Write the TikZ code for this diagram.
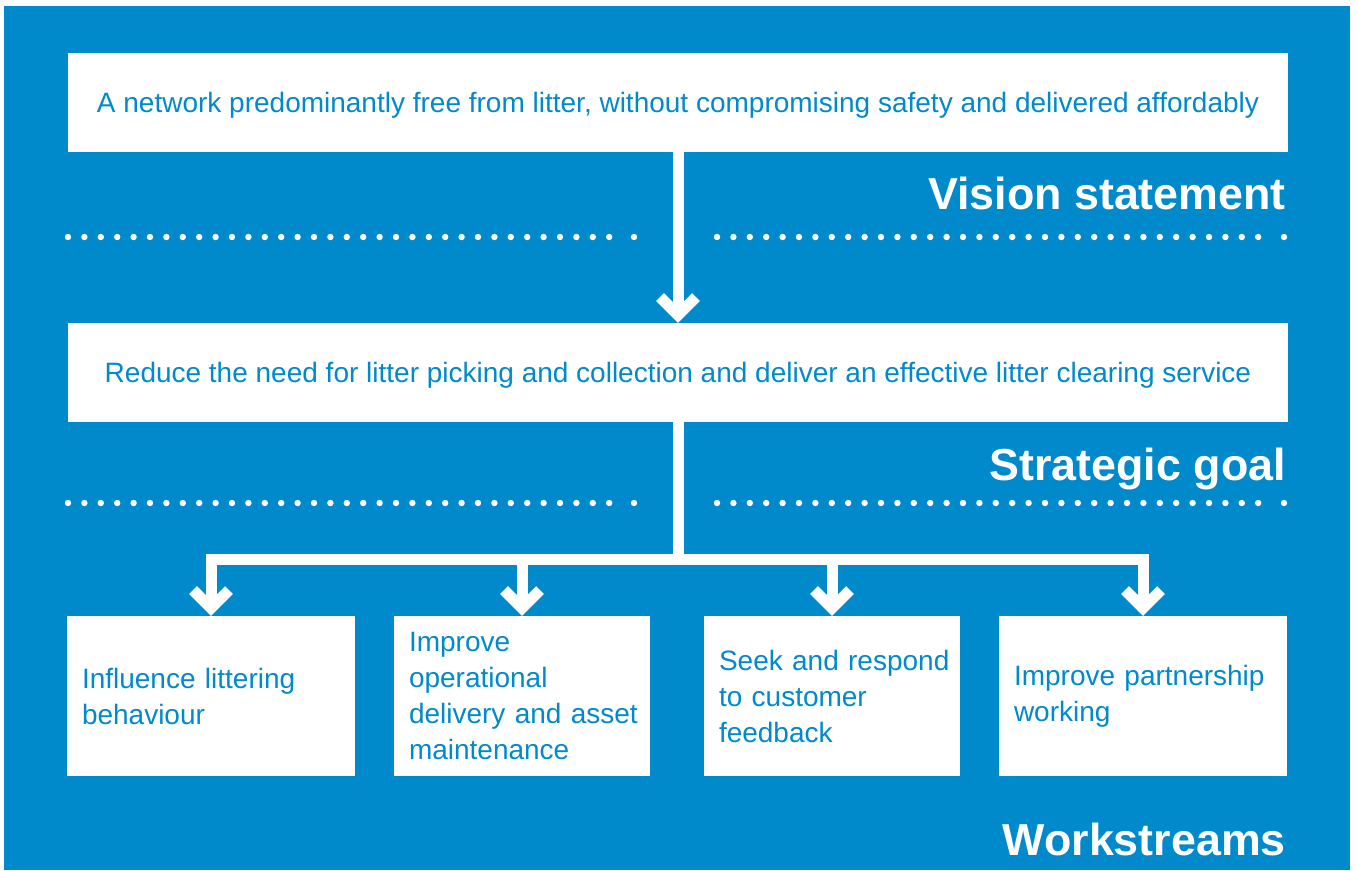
\documentclass[tikz,border=0pt]{standalone}
\usepackage{fontspec}
\setmainfont{Liberation Sans}
\usetikzlibrary{arrows.meta}
\definecolor{roadblue}{RGB}{0,138,203}
\hyphenpenalty=10000
\exhyphenpenalty=10000

\begin{document}
\begin{tikzpicture}[x=1pt, y=-1pt,
		box/.style={fill=white, text=roadblue, font=\fontsize{28}{36}\selectfont},
		wide/.style={box, minimum width=1220pt, minimum height=99pt, inner sep=0pt, text depth=0pt},
		stream/.style 2 args={box, minimum width=#1, text width=#2, minimum height=160pt, inner xsep=15pt, align=left},
		heading/.style={anchor=base east, inner sep=0pt, text=white, font=\bfseries\fontsize{44.8}{50}\selectfont},
		flow/.style={draw=white, line width=11pt, line join=miter, -{Straight Barb[length=18pt,width=36pt]}}]
		\useasboundingbox (0,0) rectangle (1357,870);
		\fill[roadblue] (4,6) rectangle (1350,870);
		\node[wide] (vision) at (678,102.5) {A network predominantly free from litter, without compromising safety and delivered affordably};
		\node[wide] (goal) at (678,372.5) {Reduce the need for litter picking and collection and deliver an effective litter clearing service};
		\node[stream={288pt}{258pt}] (influence) at (211,696) {Influence~littering\\behaviour};
		\node[stream={256pt}{226pt}] (operations) at (522,696) {Improve\\operational\\delivery~and~asset\\maintenance};
		\node[stream={256pt}{226pt}] (feedback) at (832,696) {Seek~and~respond\\to~customer\\feedback};
		\node[stream={288pt}{258pt}] (partners) at (1143,696) {Improve~partnership\\working};
		\node[heading] (visionlabel) at (1286,209) {Vision statement};
		\node[heading] (goallabel) at (1286,480) {Strategic goal};
		\node[heading] (streamlabel) at (1286,855) {Workstreams};
		\foreach \y in {237,503} {
			\foreach \i in {0,...,33} {
				\fill[white] (68+16.4*\i,\y) circle (3.2pt);
				\fill[white] (717+16.4*\i,\y) circle (3.2pt);
			}
			\fill[white] (634,\y) circle (3.2pt);
			\fill[white] (1284,\y) circle (3.2pt);
		}
		\coordinate (bar) at (678,559.5);
		\draw[flow] (vision) -- (goal);
		\draw[flow, -] (goal.south) -- (bar);
		\foreach \n in {influence,operations,feedback,partners}
			\draw[flow] (bar) -| (\n.north);
	\end{tikzpicture}
\end{document}
